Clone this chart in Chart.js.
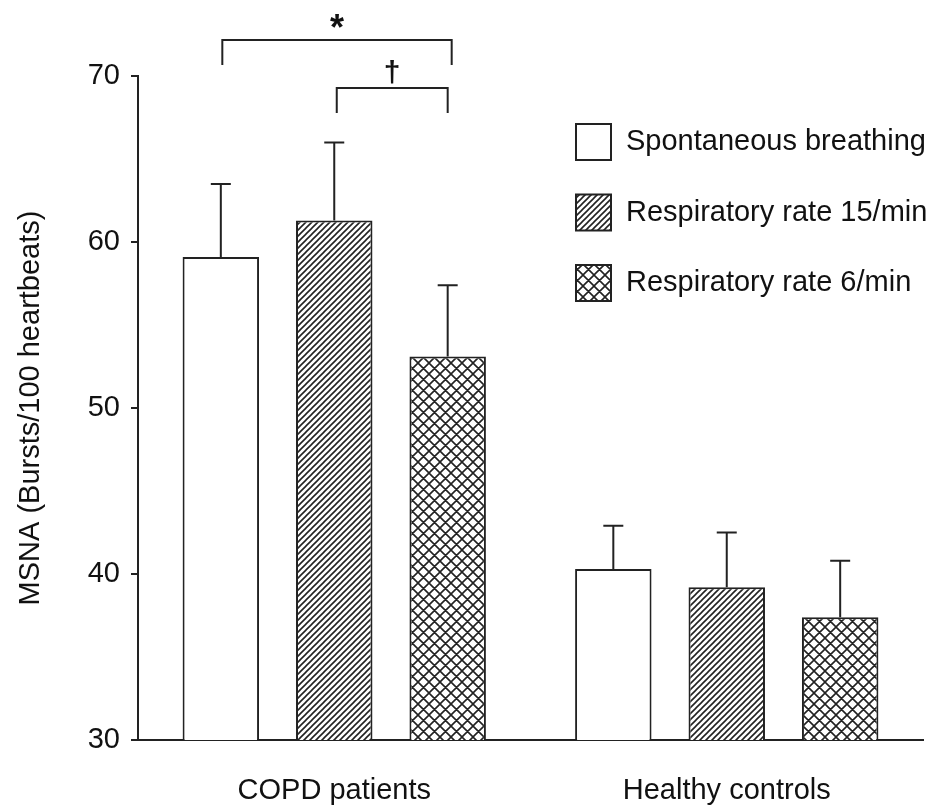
<!DOCTYPE html>
<html>
<head>
<meta charset="utf-8">
<script src="https://cdn.jsdelivr.net/npm/chart.js@4.4.1/dist/chart.umd.min.js"></script>
<style>
  body { margin: 0; background: #fff; }
  #wrap { width: 938px; height: 810px; }
</style>
</head>
<body>
<div id="wrap"><canvas id="chart" width="938" height="810"></canvas></div>
<script>
const groups = ["COPD patients", "Healthy controls"];
const seriesNames = ["Spontaneous breathing", "Respiratory rate 15/min", "Respiratory rate 6/min"];

const spontaneous = [59.1, 40.3];
const rate15 = [61.3, 39.2];
const rate6 = [53.1, 37.4];

// upper SEM / SD bars
const spontaneousErr = [4.4, 2.6];
const rate15Err = [4.7, 3.3];
const rate6Err = [4.3, 3.4];

const yTicks = [30, 40, 50, 60, 70];

// significance brackets: group, from series, to series, symbol, level (y units)
const brackets = [
  { group: 0, from: 0, to: 2, symbol: "*", level: 72.15 },
  { group: 0, from: 1, to: 2, symbol: "\u2020", level: 69.3 },
];

const ink = "#222";
const FONT = '"Liberation Sans", Arial, sans-serif';
Chart.defaults.font.family = FONT;
Chart.defaults.color = "#111";

function hatch(size, both) {
  const c = document.createElement("canvas");
  c.width = size; c.height = size;
  const g = c.getContext("2d");
  g.fillStyle = "#fff";
  g.fillRect(0, 0, size, size);
  g.strokeStyle = "#222";
  g.lineWidth = 1.6;
  g.beginPath();
  g.moveTo(-1, size + 1); g.lineTo(size + 1, -1);
  g.moveTo(-1, 1); g.lineTo(1, -1);
  g.moveTo(size - 1, size + 1); g.lineTo(size + 1, size - 1);
  if (both) {
    g.moveTo(-1, -1); g.lineTo(size + 1, size + 1);
    g.moveTo(size - 1, -1); g.lineTo(size + 1, 1);
    g.moveTo(-1, size - 1); g.lineTo(1, size + 1);
  }
  g.stroke();
  return g.createPattern(c, "repeat");
}

const fills = ["#fff", hatch(6, false), hatch(11, true)];
const values = [spontaneous, rate15, rate6];
const errors = [spontaneousErr, rate15Err, rate6Err];

const errorBars = {
  id: "errorBars",
  afterDatasetsDraw(chart) {
    const ctx = chart.ctx;
    const y = chart.scales.y;
    ctx.save();
    ctx.strokeStyle = ink;
    ctx.lineWidth = 2;
    chart.data.datasets.forEach((ds, i) => {
      chart.getDatasetMeta(i).data.forEach((bar, j) => {
        const top = y.getPixelForValue(ds.data[j] + errors[i][j]);
        ctx.beginPath();
        ctx.moveTo(bar.x, bar.y);
        ctx.lineTo(bar.x, top);
        ctx.moveTo(bar.x - 10, top);
        ctx.lineTo(bar.x + 10, top);
        ctx.stroke();
      });
    });
    ctx.restore();
  }
};

const sigMarks = {
  id: "sigMarks",
  afterDraw(chart) {
    const ctx = chart.ctx;
    const y = chart.scales.y;
    ctx.save();
    ctx.strokeStyle = ink;
    ctx.lineWidth = 2;
    ctx.fillStyle = "#111";
    brackets.forEach((b, k) => {
      const x1 = chart.getDatasetMeta(b.from).data[b.group].x + (k === 0 ? 1.5 : 2.5);
      const x2 = chart.getDatasetMeta(b.to).data[b.group].x + (k === 0 ? 4 : 0);
      const yl = Math.round(y.getPixelForValue(b.level));
      ctx.beginPath();
      ctx.moveTo(x1, yl + 25);
      ctx.lineTo(x1, yl);
      ctx.lineTo(x2, yl);
      ctx.lineTo(x2, yl + 25);
      ctx.stroke();
      ctx.font = (b.symbol === "*" ? "bold 36px " : "bold 30px ") + FONT;
      ctx.textAlign = "center";
      ctx.textBaseline = "alphabetic";
      const m = ctx.measureText(b.symbol);
      const cy = b.symbol === "*" ? yl - 18.6 : yl - 15.6;
      ctx.fillText(b.symbol, (x1 + x2) / 2, cy + (m.actualBoundingBoxAscent - m.actualBoundingBoxDescent) / 2);
    });
    ctx.restore();
  }
};

const boxLegend = {
  id: "boxLegend",
  afterDraw(chart) {
    const ctx = chart.ctx;
    ctx.save();
    chart.data.datasets.forEach((ds, i) => {
      const cy = 142 + i * 70.5;
      ctx.fillStyle = ds.backgroundColor;
      ctx.fillRect(576, cy - 18, 35, 36);
      ctx.strokeStyle = ink;
      ctx.lineWidth = 2;
      ctx.strokeRect(576, cy - 18, 35, 36);
      ctx.fillStyle = "#111";
      ctx.font = "29px " + FONT;
      ctx.textAlign = "left";
      ctx.textBaseline = "middle";
      ctx.fillText(ds.label, 626, cy);
    });
    ctx.restore();
  }
};

new Chart(document.getElementById("chart"), {
  type: "bar",
  data: {
    labels: groups,
    datasets: seriesNames.map((name, i) => ({
      label: name,
      data: values[i],
      backgroundColor: fills[i],
      borderColor: ink,
      borderWidth: 2,
      borderSkipped: false,
      categoryPercentage: 0.867,
      barPercentage: 0.674,
    }))
  },
  options: {
    responsive: false,
    animation: false,
    layout: { padding: { top: 76, right: 15, left: 0, bottom: 0 } },
    plugins: {
      legend: { display: false },
      tooltip: { enabled: false },
    },
    scales: {
      x: {
        grid: { display: false, drawTicks: false },
        border: { display: true, color: ink, width: 2 },
        ticks: { font: { size: 29 }, color: "#111", padding: 34 },
        afterFit: s => { s.height = 70; },
      },
      y: {
        min: 30,
        max: 70,
        afterBuildTicks: s => { s.ticks = yTicks.map(v => ({ value: v })); },
        grid: { drawOnChartArea: false, drawTicks: true, tickLength: 7, color: ink, lineWidth: 2 },
        border: { display: true, color: ink, width: 2 },
        ticks: { font: { size: 29 }, color: "#111", padding: 11 },
        title: {
          display: true,
          text: "MSNA (Bursts/100 heartbeats)",
          font: { size: 29 },
          color: "#111",
          padding: { top: 14, bottom: 0 },
        },
        afterFit: s => { s.width = 138; },
      }
    }
  },
  plugins: [errorBars, sigMarks, boxLegend]
});
</script>
</body>
</html>
